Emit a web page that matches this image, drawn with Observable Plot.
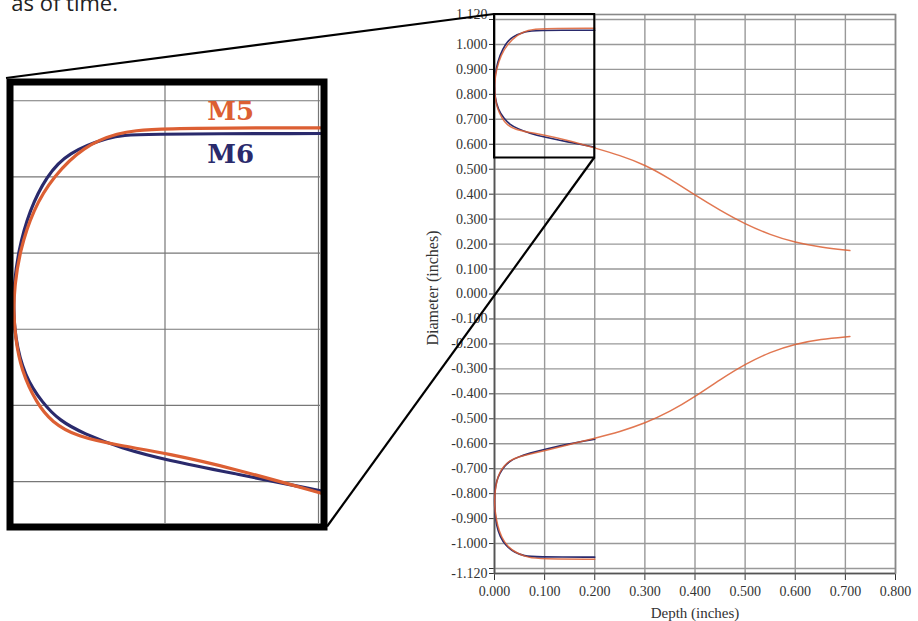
<!DOCTYPE html>
<html>
<head>
<meta charset="utf-8">
<script src="https://cdn.jsdelivr.net/npm/d3@7"></script>
<script src="https://cdn.jsdelivr.net/npm/@observablehq/plot@0.6"></script>
<style>
  html, body { margin: 0; padding: 0; background: #fff; }
  #wrap { position: relative; width: 918px; height: 621px; overflow: hidden; background: #fff; }
  #wrap > svg, #wrap > div { position: absolute; }
  #toptext { left: 0; top: -9.5px; width: 118px; text-align: right; white-space: nowrap;
    font-family: "Open Sans", sans-serif; font-size: 22px; line-height: 22px; color: #222; }
</style>
</head>
<body>
<div id="wrap">
  <div id="toptext">as of time.</div>
</div>
<script>
// ---- data (depth, diameter) in inches ----
const m5Upper = [
  [0.709, 0.174], [0.65, 0.187], [0.6, 0.206], [0.55, 0.237], [0.5, 0.280], [0.45, 0.335],
  [0.4, 0.396], [0.35, 0.462], [0.3, 0.518], [0.25, 0.556], [0.2, 0.585], [0.144, 0.617],
  [0.1, 0.637], [0.07, 0.647], [0.041, 0.659], [0.025, 0.678], [0.015, 0.703], [0.005, 0.746],
  [0.0011, 0.79], [0, 0.825], [0.0007, 0.856], [0.004, 0.902], [0.0127, 0.957], [0.026, 1.001],
  [0.0456, 1.040], [0.0675, 1.058], [0.089, 1.064], [0.2, 1.0645]
];
const m6Upper = [
  [0.2, 0.588], [0.144, 0.6105], [0.1, 0.628], [0.07, 0.644], [0.0456, 0.663], [0.03, 0.68],
  [0.019, 0.703], [0.0072, 0.738], [0.0007, 0.79], [0, 0.835], [0.0003, 0.856], [0.003, 0.902],
  [0.0105, 0.957], [0.0215, 1.001], [0.035, 1.032], [0.063, 1.053], [0.078, 1.0565], [0.2, 1.057]
];
const m5Lower = [
  [0.709, -0.170], [0.65, -0.181], [0.6, -0.200], [0.55, -0.232], [0.5, -0.281], [0.45, -0.343],
  [0.4, -0.412], [0.35, -0.472], [0.3, -0.518], [0.25, -0.552], [0.2, -0.578], [0.15, -0.603],
  [0.1, -0.628], [0.07, -0.641], [0.048, -0.653], [0.03, -0.668], [0.02, -0.686], [0.01, -0.715],
  [0.005, -0.745], [0.001, -0.79], [0, -0.83], [0.001, -0.87], [0.006, -0.93], [0.014, -0.975],
  [0.026, -1.012], [0.045, -1.040], [0.068, -1.056], [0.09, -1.062], [0.2, -1.0625]
];
const m6Lower = [
  [0.2, -0.582], [0.15, -0.600], [0.1, -0.622], [0.07, -0.638], [0.048, -0.652], [0.03, -0.670],
  [0.02, -0.69], [0.01, -0.72], [0.004, -0.75], [0.0005, -0.79], [0, -0.825], [0.0005, -0.87],
  [0.004, -0.93], [0.011, -0.972], [0.022, -1.008], [0.04, -1.036], [0.06, -1.05], [0.08, -1.054],
  [0.2, -1.0545]
];
const seriesNames = ["M5", "M6"];
const seriesColors = ["#dc5f33", "#2a2a6c"];
const xTicks = [0, 0.1, 0.2, 0.3, 0.4, 0.5, 0.6, 0.7, 0.8];
const yTicks = [1.12, 1.1, 1.0, 0.9, 0.8, 0.7, 0.6, 0.5, 0.4, 0.3, 0.2, 0.1, 0,
  -0.1, -0.2, -0.3, -0.4, -0.5, -0.6, -0.7, -0.8, -0.9, -1.0, -1.1, -1.12];
const yGrid = [1.1, 1.0, 0.9, 0.8, 0.7, 0.6, 0.5, 0.4, 0.3, 0.2, 0.1, 0,
  -0.1, -0.2, -0.3, -0.4, -0.5, -0.6, -0.7, -0.8, -0.9, -1.0, -1.1];
const insetXGrid = [0.1, 0.2];
const insetYGrid = [0.6, 0.7, 0.8, 0.9, 1.0, 1.1];
const zoomX = [0, 0.2];
const zoomY = [0.545, 1.12];
const xLabel = "Depth (inches)";
const yLabel = "Diameter (inches)";

const fmt = v => (Math.abs(Math.abs(v) - 1.1) < 1e-9) ? "" : (v < 0 ? "-" : "") + Math.abs(v).toFixed(3);
const X = d => d[0], Y = d => d[1];
const byY = arr => arr.slice().sort((a, b) => a[1] - b[1]);   // each half is ordered along the profile
const inZoom = arr => arr.filter(d => d[0] <= zoomX[1] + 1e-9);
const CURVE = "basis";

const wrap = document.getElementById("wrap");

// ---- main chart ----
const MAIN_LEFT = 410;
const main = Plot.plot({
  width: 508, height: 621,
  marginLeft: 84, marginRight: 23, marginTop: 14, marginBottom: 48,
  style: { fontFamily: "'Liberation Serif', 'Times New Roman', serif", fontSize: "14px", color: "#333", background: "transparent" },
  x: { domain: [0, 0.8], ticks: xTicks, tickFormat: fmt, tickSize: 7, tickPadding: 6, label: null },
  y: { domain: [-1.12, 1.12], ticks: yTicks, tickFormat: fmt, tickSize: 5, tickPadding: 2, label: null },
  marks: [
    Plot.ruleX(xTicks, { stroke: "#999", strokeWidth: 1.4 }),
    Plot.ruleY(yGrid, { stroke: "#999", strokeWidth: 1.4 }),
    Plot.frame({ stroke: "#888", strokeWidth: 1.6 }),
    Plot.ruleX([0], { stroke: "#555", strokeWidth: 1.5 }),
    Plot.ruleY([-1.12], { stroke: "#555", strokeWidth: 1.5 }),
    Plot.line(byY(m6Upper), { x: X, y: Y, stroke: seriesColors[1], strokeWidth: 1.6, curve: CURVE }),
    Plot.line(byY(m6Lower), { x: X, y: Y, stroke: seriesColors[1], strokeWidth: 1.6, curve: CURVE }),
    Plot.line(byY(m5Upper), { x: X, y: Y, stroke: seriesColors[0], strokeWidth: 1.5, strokeOpacity: 0.85, curve: CURVE }),
    Plot.line(byY(m5Lower), { x: X, y: Y, stroke: seriesColors[0], strokeWidth: 1.5, strokeOpacity: 0.85, curve: CURVE }),
    Plot.rect([{ x1: zoomX[0], x2: zoomX[1], y1: zoomY[0], y2: zoomY[1] }],
      { x1: "x1", x2: "x2", y1: "y1", y2: "y2", fill: "none", stroke: "#000", strokeWidth: 2 }),
    Plot.text([xLabel], { text: d => d, frameAnchor: "bottom", textAnchor: "middle", lineAnchor: "middle",
      dy: 40, fill: "#333", fontSize: 15 }),
    Plot.text([yLabel], { text: d => d, frameAnchor: "left", textAnchor: "middle", lineAnchor: "middle",
      rotate: -90, dx: -62, dy: -6, fill: "#333", fontSize: 16 })
  ]
});
main.style.left = MAIN_LEFT + "px";
main.style.top = "0px";
wrap.appendChild(main);

// ---- inset (magnified view of the boxed region) ----
const BORDER = 7;
const inset = Plot.plot({
  width: 340, height: 540,
  marginLeft: 13, marginRight: 20, marginTop: 85, marginBottom: 17,
  style: { background: "transparent" },
  x: { domain: zoomX, axis: null },
  y: { domain: zoomY, axis: null },
  marks: [
    Plot.ruleX(insetXGrid, { stroke: "#777", strokeWidth: 1.2, dx: -2 }),
    Plot.ruleY(insetYGrid, { stroke: "#777", strokeWidth: 1.2 }),
    Plot.line(byY(inZoom(m6Upper)), { x: X, y: Y, stroke: seriesColors[1], strokeWidth: 3.2, curve: CURVE }),
    Plot.line(byY(inZoom(m5Upper)), { x: X, y: Y, stroke: seriesColors[0], strokeWidth: 3.2, curve: CURVE }),
    Plot.text([seriesNames[0]], { x: 0.1415, y: 1.075, text: d => d, fill: seriesColors[0],
      fontFamily: "'DejaVu Serif', serif", fontWeight: "bold", fontSize: 26, lineAnchor: "bottom" }),
    Plot.text([seriesNames[1]], { x: 0.1415, y: 1.018, text: d => d, fill: seriesColors[1],
      fontFamily: "'DejaVu Serif', serif", fontWeight: "bold", fontSize: 26, lineAnchor: "bottom" }),
    Plot.frame({ stroke: "#000", strokeWidth: BORDER, inset: -BORDER / 2 })
  ]
});
inset.style.left = "0px";
inset.style.top = "0px";
wrap.appendChild(inset);

// ---- connector lines between the box and the inset ----
const mx = main.scale("x"), my = main.scale("y");
const ix = inset.scale("x"), iy = inset.scale("y");
const boxTL = [MAIN_LEFT + mx.apply(zoomX[0]), my.apply(zoomY[1])];
const boxBR = [MAIN_LEFT + mx.apply(zoomX[1]), my.apply(zoomY[0])];
const insTL = [ix.apply(zoomX[0]) - BORDER, iy.apply(zoomY[1]) - BORDER];
const insBR = [ix.apply(zoomX[1]) + BORDER, iy.apply(zoomY[0]) + BORDER / 2];
const ns = "http://www.w3.org/2000/svg";
const over = document.createElementNS(ns, "svg");
over.setAttribute("width", 918);
over.setAttribute("height", 621);
over.style.left = "0px"; over.style.top = "0px"; over.style.pointerEvents = "none";
for (const [a, b] of [[insTL, boxTL], [insBR, boxBR]]) {
  const l = document.createElementNS(ns, "line");
  l.setAttribute("x1", a[0]); l.setAttribute("y1", a[1]);
  l.setAttribute("x2", b[0]); l.setAttribute("y2", b[1]);
  l.setAttribute("stroke", "#000"); l.setAttribute("stroke-width", 2.2);
  over.appendChild(l);
}
wrap.appendChild(over);
</script>
</body>
</html>
